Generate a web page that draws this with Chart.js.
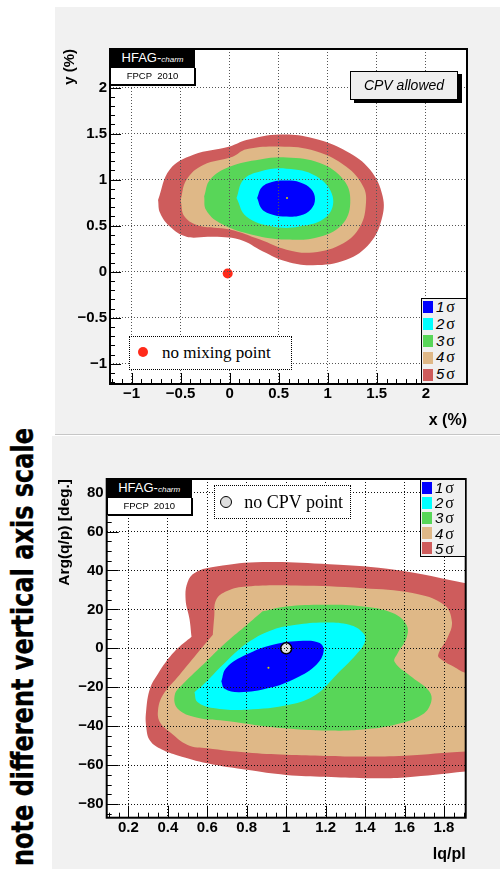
<!DOCTYPE html>
<html>
<head>
<meta charset="utf-8">
<title>D mixing contours</title>
<script src="https://cdn.jsdelivr.net/npm/chart.js@4.4.1/dist/chart.umd.min.js"></script>
<style>
  html, body { margin: 0; padding: 0; }
  body { position: relative; width: 502px; height: 869px; background: #fff; overflow: hidden;
         font-family: "Liberation Sans", Arial, sans-serif; }
  .abs { position: absolute; box-sizing: border-box; }
  .panel { position: absolute; background: #f1f1f1; }
  .panel canvas { position: absolute; left: 0; top: 0; }
  .hfag { background: #000; color: #fff; font-size: 13px; text-align: center; line-height: 18px; }
  .hfag i { font-size: 8px; }
  .fpcp { background: #fff; border: 1px solid #000; box-shadow: 1px 1px 0 #000; font-size: 9.5px;
          text-align: center; white-space: pre; line-height: 15.5px; }
  .cpv { background: #efefef; border: 1px solid #000; box-shadow: 4px 3px 0 #000; font-style: italic;
         font-size: 14px; text-align: center; line-height: 27px; }
  .legend { background: #f0f0f0; border: 1px solid #000; }
  .legend .row { position: absolute; left: 0; right: 0; }
  .legend .sw { position: absolute; left: 1px; width: 10px; height: 12px; }
  .legend .lab { position: absolute; left: 14px; font-size: 15px; font-style: italic; white-space: nowrap; }
  .legend .lab span { font-family: "Liberation Serif", serif; font-style: normal; font-size: 16px; margin-left: 2px; }
  .marker { background: #fff; border: 1px dotted #000; font-family: "Liberation Serif", serif; white-space: nowrap; }
  .marker .txt { position: absolute; top: 0; bottom: 0; display: flex; align-items: center; }
  .dot { position: absolute; border-radius: 50%; box-sizing: border-box; }
</style>
</head>
<body>

<svg class="abs" style="left:0;top:0" width="50" height="869">
  <text transform="translate(33,866) rotate(-90)" textLength="438" lengthAdjust="spacingAndGlyphs"
        font-family="DejaVu Sans, sans-serif" font-weight="bold" font-size="31"
        fill="#000" stroke="#000" stroke-width="0.4">note different vertical axis scale</text>
</svg>

<div class="panel" style="left:55px;top:7px;width:445px;height:428px;">
  <canvas id="mixChart" width="445" height="428"></canvas>
</div>
<div class="abs" style="left:55px;top:434px;width:445px;height:1px;background:#c6c6c6"></div>

<div class="panel" style="left:52px;top:436px;width:448px;height:433px;">
  <canvas id="cpvChart" width="448" height="433"></canvas>
</div>

<!-- upper plot labels -->
<div class="abs hfag" style="left:110px;top:49px;width:85px;height:18px;">HFAG-<i>charm</i></div>
<div class="abs fpcp" style="left:110px;top:67px;width:85px;height:17.5px;">FPCP  2010</div>
<div class="abs cpv" style="left:350px;top:71px;width:108px;height:29px;">CPV allowed</div>
<div class="abs legend" id="legendMix" style="left:421px;top:298px;width:46px;height:86px;"></div>
<div class="abs marker" style="left:129px;top:336px;width:163px;height:34px;">
  <div class="dot" style="left:7.7px;top:10px;width:10px;height:10px;background:#ff2a1a;"></div>
  <div class="txt" style="left:32px;font-size:17px;">no mixing point</div>
</div>

<!-- lower plot labels -->
<div class="abs hfag" style="left:106.7px;top:479px;width:85px;height:18px;">HFAG-<i>charm</i></div>
<div class="abs fpcp" style="left:106.7px;top:497px;width:85px;height:18px;">FPCP  2010</div>
<div class="abs legend" id="legendCpv" style="left:420px;top:479px;width:46px;height:78px;"></div>
<div class="abs marker" style="left:214px;top:485px;width:137px;height:34px;">
  <div class="dot" style="left:5px;top:9.7px;width:12px;height:12px;background:#dedede;border:1.5px solid #000;"></div>
  <div class="txt" style="left:29.3px;font-size:18px;">no CPV point</div>
</div>

<script>
const sigmaLabels = ['1', '2', '3', '4', '5'];
const sigmaColors = ['#0000ff', '#00ffff', '#58d658', '#dfb887', '#ce5c5c'];

// x (%) vs y (%) contour outlines, 1 sigma .. 5 sigma
const xy1s = [[0.28,0.80],[0.33,0.92],[0.45,0.98],[0.58,0.99],[0.72,0.97],[0.83,0.90],[0.87,0.79],[0.83,0.68],[0.72,0.61],[0.58,0.60],[0.44,0.62],[0.33,0.68]];
const xy2s = [[0.07,0.80],[0.14,1.0],[0.31,1.09],[0.58,1.12],[0.88,1.04],[1.05,0.82],[0.99,0.60],[0.71,0.49],[0.44,0.49],[0.17,0.60]];
const xy3s = [[-0.26,0.82],[-0.20,1.0],[0,1.14],[0.31,1.22],[0.58,1.24],[0.92,1.18],[1.16,1.0],[1.23,0.78],[1.16,0.53],[0.92,0.38],[0.58,0.35],[0.24,0.40],[-0.10,0.53],[-0.24,0.67]];
const xy4s = [[-0.50,0.78],[-0.44,1.0],[-0.27,1.16],[0.03,1.25],[0.17,1.33],[0.51,1.36],[0.88,1.31],[1.19,1.14],[1.36,0.93],[1.39,0.75],[1.33,0.49],[1.16,0.31],[0.85,0.21],[0.58,0.24],[0.31,0.35],[0,0.46],[-0.31,0.50],[-0.46,0.60]];
const xy5s = [[-0.73,0.78],[-0.61,1.11],[-0.37,1.27],[0,1.36],[0.17,1.43],[0.51,1.49],[0.85,1.45],[1.19,1.31],[1.43,1.11],[1.56,0.82],[1.55,0.57],[1.43,0.31],[1.19,0.13],[0.85,0.07],[0.58,0.11],[0.34,0.22],[0.10,0.35],[-0.20,0.38],[-0.44,0.38],[-0.61,0.49],[-0.71,0.64]];
const xyBest = [[0.585, 0.80]];
const noMixing = [[-0.02, -0.02]];

// |q/p| vs Arg(q/p) [deg.] contour outlines, 1 sigma .. 5 sigma
const qp1s = [[0.671,-17],[0.696,-10.1],[0.798,-3.2],[0.933,1.9],[1.085,3.9],[1.17,2.7],[1.19,-1.5],[1.153,-8.4],[1.051,-15.2],[0.916,-20.3],[0.764,-22.6],[0.688,-20.8]];
const qp2s = [[0.535,-22.5],[0.58,-18.6],[0.696,-6.7],[0.815,3.6],[0.933,9.6],[1.05,12.1],[1.19,13.3],[1.32,12.1],[1.39,7.9],[1.40,3.6],[1.355,-3.2],[1.255,-13.5],[1.15,-23.8],[1.02,-28.9],[0.80,-31.5],[0.63,-30.6],[0.55,-27.5]];
const qp3s = [[0.88,19],[1.0,21.5],[1.19,22.4],[1.39,21.5],[1.54,18.1],[1.61,12],[1.61,5.3],[1.565,-2.5],[1.55,-7],[1.64,-15],[1.725,-22],[1.735,-27.5],[1.69,-34],[1.56,-39],[1.39,-41.7],[1.22,-42.2],[0.97,-40.9],[0.71,-37.4],[0.545,-35.5],[0.45,-31],[0.435,-24],[0.475,-18.5],[0.595,-6.7],[0.70,3.5],[0.80,12]];
const qp4s = [[0.628,7],[0.635,16],[0.645,25],[0.70,29.5],[0.80,31.8],[1.05,32.3],[1.39,30.9],[1.64,28.4],[1.80,22.4],[1.84,13.8],[1.82,6],[1.77,-3.5],[1.79,-6],[1.85,-9.5],[1.91,-12.6],[2.05,-14],[2.05,-53],[1.91,-53],[1.6,-55.2],[1.4,-55.6],[1.2,-55.3],[1.0,-54.7],[0.8,-53.5],[0.6,-51.3],[0.5,-49.6],[0.41,-43],[0.36,-38],[0.35,-32],[0.375,-24],[0.46,-13.5],[0.545,-3]];
const qp5s = [[0.52,6],[0.51,15],[0.49,25],[0.50,34],[0.54,39],[0.645,42],[0.88,44.3],[1.22,43.2],[1.56,40.3],[1.91,33.5],[2.05,31],[2.05,-62],[1.91,-63.3],[1.6,-66.3],[1.4,-66.7],[1.2,-66],[1.0,-65],[0.8,-62.4],[0.6,-59],[0.45,-55],[0.37,-52],[0.31,-47.5],[0.29,-40],[0.29,-32],[0.31,-20.5],[0.35,-13],[0.39,-7],[0.45,0]];
const qpBest = [[0.91, -10]];
const noCPV = [[1, 0]];

const fmtTick = v => String(Math.round(v * 100) / 100).replace('-', '\u2212');
const tickFont = { family: 'Liberation Sans', weight: 'bold', size: 15 };

// white plot area, inward minor/major tick marks and the black frame
const framePlugin = {
  id: 'frame',
  beforeDraw(chart) {
    const { ctx, chartArea: a } = chart;
    ctx.save();
    ctx.fillStyle = '#fff';
    ctx.fillRect(a.left, a.top, a.width, a.height);
    ctx.restore();
  },
  afterDraw(chart, args, o) {
    const { ctx, chartArea: a, scales: { x, y } } = chart;
    ctx.save();
    ctx.strokeStyle = '#000';
    ctx.lineWidth = 1;
    ctx.beginPath();
    for (let i = Math.ceil(x.min / o.xMinor - 1e-6); i * o.xMinor <= x.max + 1e-9; i++) {
      const px = Math.round(x.getPixelForValue(i * o.xMinor)) + 0.5;
      const len = i % o.xMajorEvery === 0 ? o.majorLen : o.minorLen;
      ctx.moveTo(px, a.bottom);
      ctx.lineTo(px, a.bottom - len);
    }
    for (let i = Math.ceil(y.min / o.yMinor - 1e-6); i * o.yMinor <= y.max + 1e-9; i++) {
      const py = Math.round(y.getPixelForValue(i * o.yMinor)) + 0.5;
      const len = i % o.yMajorEvery === 0 ? o.majorLen : o.minorLen;
      ctx.moveTo(a.left, py);
      ctx.lineTo(a.left + len, py);
    }
    ctx.stroke();
    ctx.lineWidth = 2;
    ctx.strokeRect(a.left, a.top, a.width, a.height);
    ctx.restore();
  }
};

function contourSets(levels) {
  // innermost level first: Chart.js paints the last dataset first
  return levels.map((pts, i) => ({
    data: pts.concat([pts[0]]).map(([x, y]) => ({ x, y })),
    fill: 'shape',
    backgroundColor: sigmaColors[i],
    borderWidth: 0,
    pointRadius: 0,
    tension: 0.4
  }));
}

function markerSet(pts, style) {
  return Object.assign({
    data: pts.map(([x, y]) => ({ x, y })),
    showLine: false,
    fill: false,
    pointBorderWidth: 0
  }, style);
}

function makeChart(id, cfg) {
  return new Chart(document.getElementById(id), {
    type: 'line',
    data: { datasets: [...cfg.markers, ...contourSets(cfg.levels)] },
    options: {
      responsive: false,
      animation: false,
      events: [],
      devicePixelRatio: 1,
      layout: { padding: { top: cfg.area.top, right: cfg.area.right, left: 0, bottom: 0 } },
      elements: { line: { capBezierPoints: false } },
      plugins: {
        legend: { display: false },
        tooltip: { enabled: false },
        frame: cfg.frame
      },
      scales: {
        x: {
          type: 'linear',
          min: cfg.x.min,
          max: cfg.x.max,
          afterFit: s => { s.height = cfg.area.xh; },
          grid: { z: 1, color: cfg.gridColor, drawTicks: false },
          border: { display: false, dash: [1, 2] },
          ticks: { stepSize: cfg.x.step, includeBounds: false, padding: 1, color: '#000',
                   font: tickFont, callback: fmtTick, maxRotation: 0, autoSkip: false },
          title: { display: true, text: cfg.x.title, align: 'end', color: '#000',
                   font: { family: 'Liberation Sans', weight: 'bold', size: 16 },
                   padding: { top: 0, bottom: cfg.x.titlePad } }
        },
        y: {
          type: 'linear',
          min: cfg.y.min,
          max: cfg.y.max,
          afterFit: s => { s.width = cfg.area.yw; },
          grid: { z: 1, color: cfg.gridColor, drawTicks: false },
          border: { display: false, dash: [1, 2] },
          ticks: { stepSize: cfg.y.step, includeBounds: false, padding: 3, color: '#000',
                   font: tickFont, callback: fmtTick, autoSkip: false },
          title: { display: true, text: cfg.y.title, align: 'end', color: '#000',
                   font: { family: 'Liberation Sans', weight: 'bold', size: cfg.y.titleSize },
                   padding: { top: cfg.y.titlePad, bottom: 0 } }
        }
      }
    },
    plugins: [framePlugin]
  });
}

function buildLegend(id) {
  const box = document.getElementById(id);
  const rowH = (box.clientHeight) / sigmaLabels.length;
  sigmaLabels.forEach((lab, i) => {
    const row = document.createElement('div');
    row.className = 'row';
    row.style.top = (i * rowH) + 'px';
    row.style.height = rowH + 'px';
    const sw = document.createElement('div');
    sw.className = 'sw';
    sw.style.top = ((rowH - 12) / 2) + 'px';
    sw.style.background = sigmaColors[i];
    const txt = document.createElement('div');
    txt.className = 'lab';
    txt.style.lineHeight = rowH + 'px';
    txt.innerHTML = lab + '<span>\u03c3</span>';
    row.appendChild(sw);
    row.appendChild(txt);
    box.appendChild(row);
  });
}

makeChart('mixChart', {
  levels: [xy1s, xy2s, xy3s, xy4s, xy5s],
  markers: [
    markerSet(xyBest, { pointRadius: 1, pointBackgroundColor: '#d8d800' }),
    markerSet(noMixing, { pointRadius: 5, pointBackgroundColor: '#ff2a1a' })
  ],
  area: { top: 42, right: 33, xh: 51, yw: 55 },
  gridColor: '#555',
  x: { min: -1.22, max: 2.42, step: 0.5, title: 'x (%)', titlePad: 5 },
  y: { min: -1.22, max: 2.42, step: 0.5, title: 'y (%)', titlePad: 6, titleSize: 15 },
  frame: { xMinor: 0.1, xMajorEvery: 5, yMinor: 0.1, yMajorEvery: 5, majorLen: 11, minorLen: 5 }
});

makeChart('cpvChart', {
  levels: [qp1s, qp2s, qp3s, qp4s, qp5s],
  markers: [
    markerSet(qpBest, { pointRadius: 1, pointBackgroundColor: '#d8d800' }),
    markerSet(noCPV, { pointRadius: 5.5, pointBackgroundColor: '#dedede', pointBorderColor: '#000', pointBorderWidth: 1.5 })
  ],
  area: { top: 43, right: 34.3, xh: 51.3, yw: 54.7 },
  gridColor: '#111',
  x: { min: 0.09, max: 1.91, step: 0.2, title: 'lq/pl', titlePad: 4.4 },
  y: { min: -87, max: 87, step: 20, title: 'Arg(q/p) [deg.]', titlePad: 3.7, titleSize: 15.5 },
  frame: { xMinor: 0.05, xMajorEvery: 4, yMinor: 5, yMajorEvery: 4, majorLen: 12, minorLen: 5 }
});

buildLegend('legendMix');
buildLegend('legendCpv');
</script>
</body>
</html>
